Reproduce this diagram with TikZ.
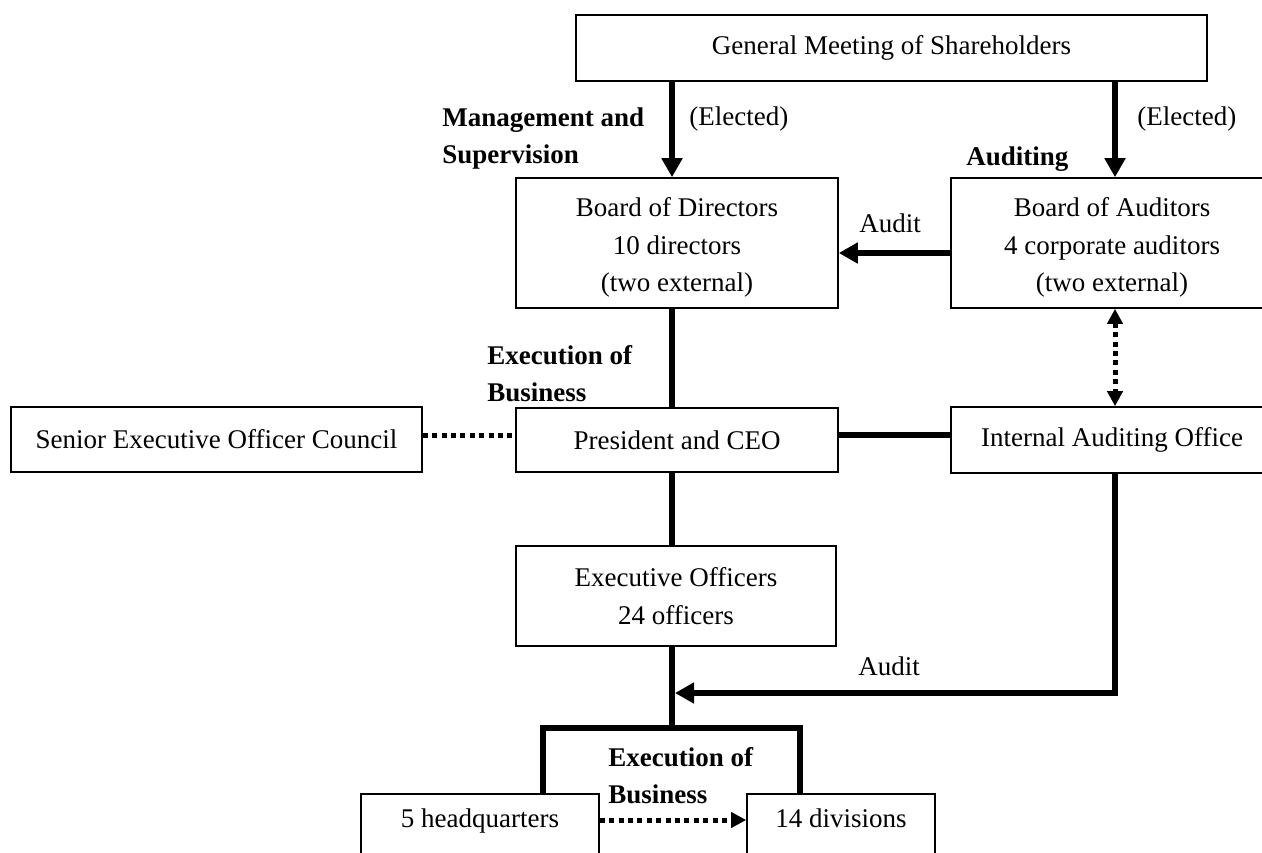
\documentclass[tikz,border=0pt]{standalone}
\usepackage{fontspec}
\setmainfont{Liberation Serif}
\usetikzlibrary{arrows.meta}
\begin{document}
\begin{tikzpicture}[x=0.5pt,y=-0.5pt,
  box/.style={draw, line width=0.8pt, rectangle, inner sep=0pt, align=center, font=\fontsize{13.5}{18.7}\selectfont},
  thickline/.style={line width=3pt},
  bigarrow/.style={line width=3pt, line join=miter, -{Triangle[width=10pt,length=9.5pt]}},
  dotline/.style={line width=2.5pt, dash pattern=on 2.5pt off 2.2pt},
  dotarrow/.style={dotline, -{Triangle[width=7.5pt,length=7.5pt]}},
  dotarrows/.style={dotline, {Triangle[width=7.5pt,length=7.5pt]}-{Triangle[width=7.5pt,length=7.5pt]}},
  lbl/.style={font=\fontsize{13.5}{18.5}\selectfont, inner sep=0pt},
  blbl/.style={font=\fontsize{13.5}{18.5}\selectfont\bfseries, inner sep=0pt, align=left},
]
\clip (0,0) rectangle (1262,852);

% boxes
\node[box, minimum width=315.5pt, minimum height=33pt] (gm) at (891.5,48) {General Meeting of Shareholders};
\node[box, minimum width=161pt, minimum height=65pt] (bod) at (677,243) {\rule{0pt}{14pt}Board of Directors\\10 directors\\(two external)};
\node[box, minimum width=161pt, minimum height=65pt] (boa) at (1112,243) {\rule{0pt}{14pt}Board of Auditors\\4 corporate auditors\\(two external)};
\node[box, minimum width=205.5pt, minimum height=32.5pt] (seoc) at (216.5,439.5) {Senior Executive Officer Council};
\node[box, minimum width=161pt, minimum height=32pt] (pres) at (677,440) {President and CEO};
\node[box, minimum width=161pt, minimum height=33pt] (iao) at (1112,440) {Internal Auditing Office};
\node[box, minimum width=160pt, minimum height=50pt] (exec) at (676,596) {Executive Officers\\24 officers};
\node[box, anchor=north, minimum width=119pt, inner ysep=8pt, text height=9pt, text depth=40pt] (hq) at (480,793) {5 headquarters};
\node[box, anchor=north, minimum width=94pt, inner ysep=8pt, text height=9pt, text depth=40pt] (div) at (841,793) {14 divisions};

% labels
\node[blbl, anchor=north west] (lms) at (442,107) {Management and\\Supervision};
\node[lbl, anchor=west] (el1) at (689,119) {(Elected)};
\node[lbl, anchor=west] (el2) at (1137,119) {(Elected)};
\node[blbl, anchor=base west] (aud) at (966,165) {Auditing};
\node[lbl] (au1) at (890,223) {Audit};
\node[blbl, anchor=north west] (eb1) at (487,345) {Execution of\\Business};
\node[lbl] (au2) at (889,666) {Audit};
\node[blbl, anchor=north west] (eb2) at (608,747) {Execution of\\Business};

% helper coordinates
\coordinate (xL) at (672,0);
\coordinate (xR) at (1115,0);
\coordinate (yA) at (0,253);
\coordinate (yP) at (0,435);
\coordinate (yB) at (0,693);
\coordinate (yD) at (0,820);
\coordinate (auend) at (675,693);
\coordinate (bl) at (543,728);
\coordinate (br) at (800,728);

% connectors
\draw[bigarrow] (gm.south -| xL) -- (bod.north -| xL);
\draw[bigarrow] (gm.south -| xR) -- (boa.north -| xR);
\draw[bigarrow] (boa.west |- yA) -- (bod.east |- yA);
\draw[thickline] (bod.south -| xL) -- (pres.north -| xL);
\draw[thickline] (pres.east |- yP) -- (iao.west |- yP);
\draw[dotline] (seoc.east |- yP) -- (pres.west |- yP);
\draw[dotarrows] (boa.south -| xR) -- (iao.north -| xR);
\draw[thickline] (pres.south -| xL) -- (exec.north -| xL);
\draw[thickline] (exec.south -| xL) -- (xL |- bl);
\draw[thickline, line join=miter] (hq.north -| bl) -- (bl) -- (br) -- (div.north -| br);
\draw[bigarrow] (iao.south -| xR) -- (xR |- yB) -- (auend);
\draw[dotarrow] (hq.east |- yD) -- (div.west |- yD);
\end{tikzpicture}
\end{document}
